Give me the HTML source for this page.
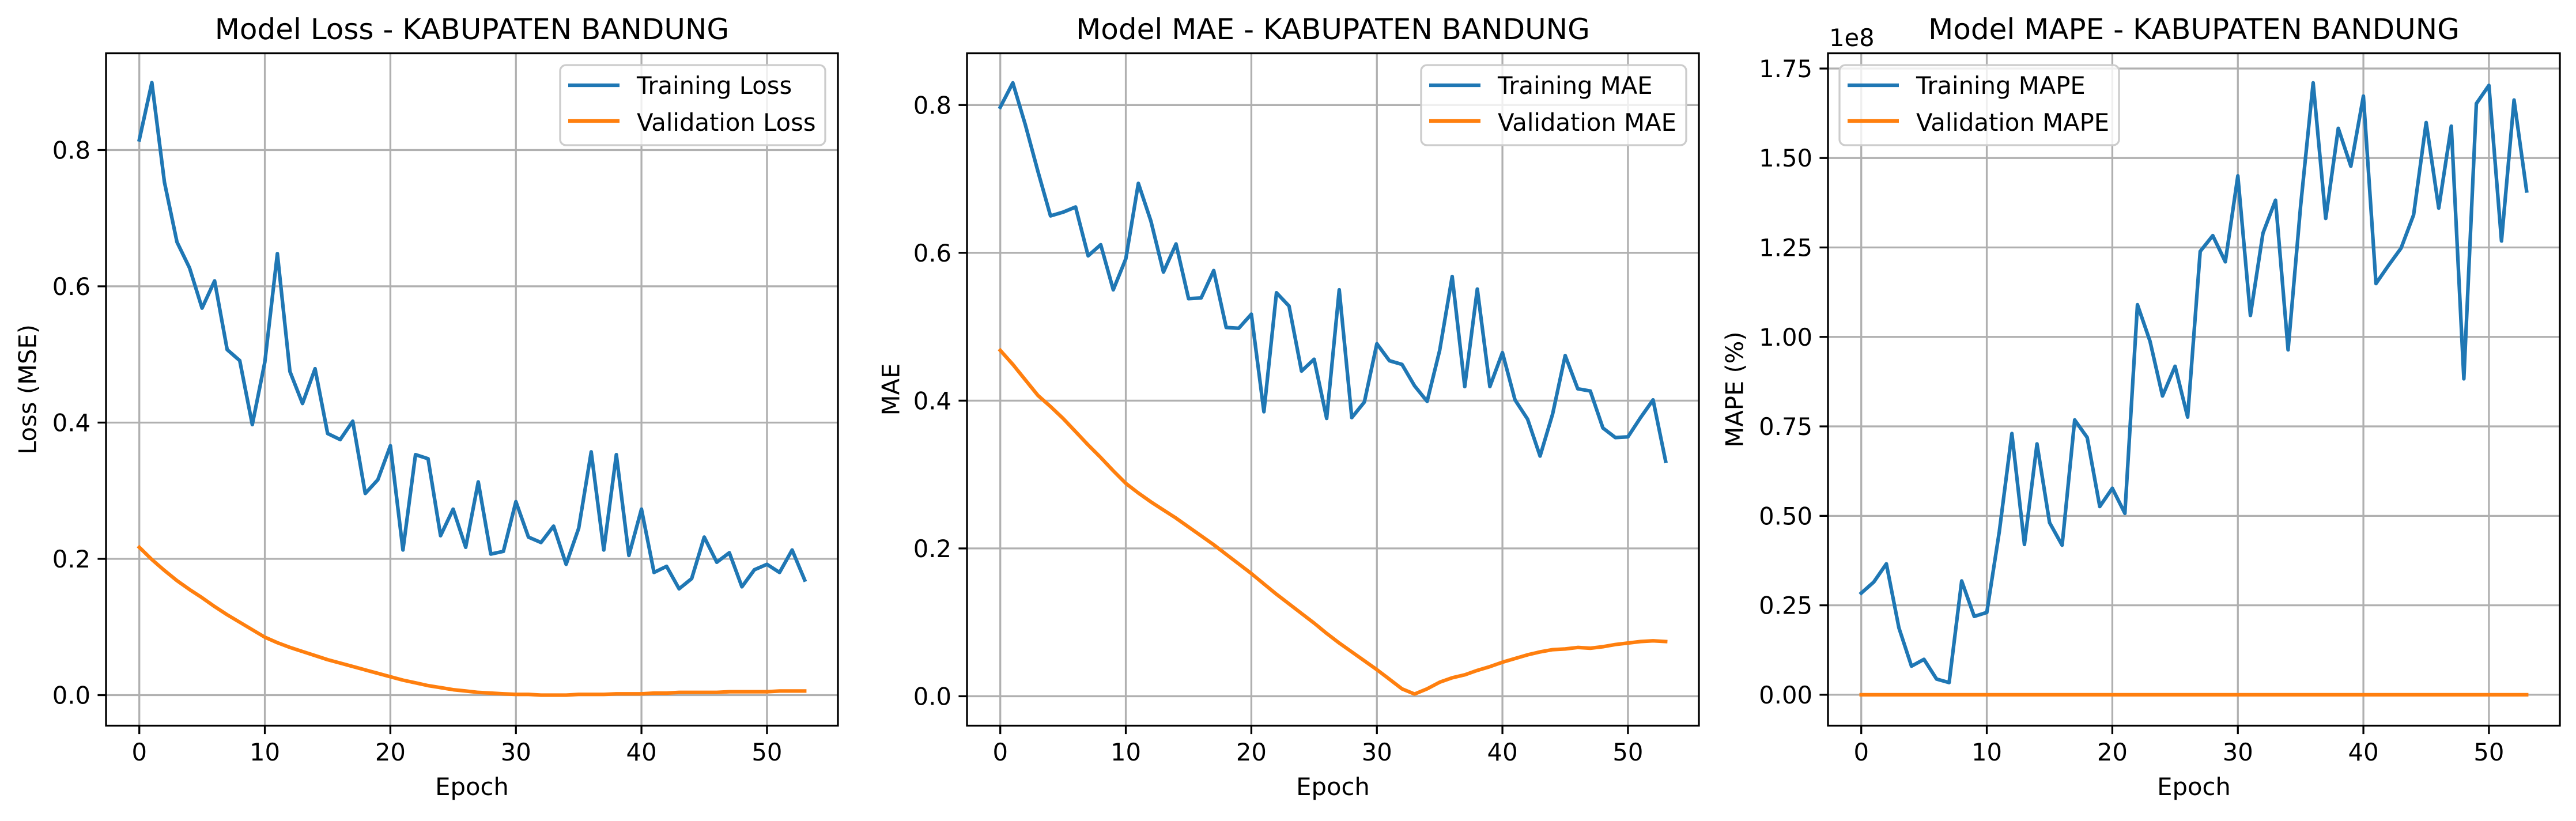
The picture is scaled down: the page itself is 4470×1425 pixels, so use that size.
<!DOCTYPE html>
<html><head><meta charset="utf-8"><style>
html,body{margin:0;padding:0;background:#fff;}
svg text{font-family:"DejaVu Sans","Liberation Sans",sans-serif;fill:#000;}
</style></head><body>
<svg id="fig" width="4470" height="1420" viewBox="0 0 4470 1420" xmlns="http://www.w3.org/2000/svg"></svg>
<script>
const epochs = Array.from({length:54},(_,i)=>i);
const xTicks = [0,10,20,30,40,50];
const lossTrain = [0.815,0.899,0.753,0.665,0.627,0.568,0.608,0.507,0.491,0.397,0.489,0.648,0.475,0.428,0.479,0.384,0.375,0.402,0.296,0.316,0.366,0.213,0.353,0.347,0.234,0.273,0.217,0.313,0.207,0.211,0.284,0.232,0.224,0.248,0.192,0.245,0.357,0.213,0.353,0.205,0.273,0.180,0.189,0.156,0.171,0.232,0.195,0.209,0.159,0.184,0.192,0.180,0.213,0.169];
const lossVal = [0.217,0.199,0.183,0.168,0.155,0.143,0.130,0.118,0.107,0.096,0.085,0.077,0.070,0.064,0.058,0.052,0.047,0.042,0.037,0.032,0.027,0.022,0.018,0.014,0.011,0.008,0.006,0.004,0.003,0.002,0.001,0.001,0.000,0.000,0.000,0.001,0.001,0.001,0.002,0.002,0.002,0.003,0.003,0.004,0.004,0.004,0.004,0.005,0.005,0.005,0.005,0.006,0.006,0.006];
const lossTicks = [0.0,0.2,0.4,0.6,0.8];
const lossTickLabels = ["0.0","0.2","0.4","0.6","0.8"];
const maeTrain = [0.797,0.830,0.773,0.710,0.650,0.655,0.662,0.596,0.611,0.550,0.592,0.694,0.643,0.574,0.612,0.538,0.539,0.576,0.499,0.498,0.517,0.385,0.546,0.528,0.440,0.456,0.376,0.550,0.377,0.398,0.477,0.454,0.449,0.420,0.399,0.468,0.568,0.419,0.551,0.419,0.465,0.401,0.375,0.325,0.382,0.461,0.416,0.413,0.363,0.350,0.351,0.377,0.401,0.318];
const maeVal = [0.468,0.449,0.428,0.407,0.392,0.376,0.358,0.340,0.323,0.305,0.288,0.275,0.263,0.252,0.241,0.229,0.217,0.205,0.192,0.179,0.166,0.152,0.138,0.125,0.112,0.099,0.085,0.072,0.060,0.048,0.036,0.023,0.010,0.003,0.010,0.019,0.025,0.029,0.035,0.040,0.046,0.051,0.056,0.060,0.063,0.064,0.066,0.065,0.067,0.070,0.072,0.074,0.075,0.074];
const maeTicks = [0.0,0.2,0.4,0.6,0.8];
const maeTickLabels = ["0.0","0.2","0.4","0.6","0.8"];
const mapeTrain = [0.284,0.315,0.366,0.187,0.080,0.099,0.044,0.034,0.318,0.219,0.230,0.456,0.730,0.420,0.701,0.481,0.418,0.768,0.719,0.526,0.577,0.507,1.090,0.988,0.835,0.918,0.776,1.239,1.283,1.210,1.450,1.060,1.290,1.382,0.964,1.367,1.710,1.331,1.583,1.477,1.673,1.149,1.200,1.248,1.341,1.599,1.360,1.589,0.883,1.652,1.703,1.268,1.662,1.408];
const mapeVal = epochs.map(()=>0.0);
const mapeTicks = [0.0,0.25,0.5,0.75,1.0,1.25,1.5,1.75];
const mapeTickLabels = ["0.00","0.25","0.50","0.75","1.00","1.25","1.50","1.75"];

const NS="http://www.w3.org/2000/svg";
const svg=document.getElementById('fig');
function mk(tag,attrs,parent,text){const e=document.createElementNS(NS,tag);for(const k in attrs)e.setAttribute(k,attrs[k]);if(text!==undefined)e.textContent=text;(parent||svg).appendChild(e);return e;}

const TOP=92.5,BOT=1259.5,W=1270;
const panels=[
 {id:'loss',left:184,title:'Model Loss - KABUPATEN BANDUNG',ylabel:'Loss (MSE)',ylx:48,ymin:-0.0448,ymax:0.942,tr:lossTrain,va:lossVal,ticks:lossTicks,tl:lossTickLabels,leg:['Training Loss','Validation Loss'],lx:972,lw:460},
 {id:'mae',left:1678,title:'Model MAE - KABUPATEN BANDUNG',ylabel:'MAE',ylx:1546,ymin:-0.0398,ymax:0.870,tr:maeTrain,va:maeVal,ticks:maeTicks,tl:maeTickLabels,leg:['Training MAE','Validation MAE'],lx:2466,lw:460},
 {id:'mape',left:3172,title:'Model MAPE - KABUPATEN BANDUNG',ylabel:'MAPE (%)',ylx:3010,ymin:-0.0863,ymax:1.7926,tr:mapeTrain,va:mapeVal,ticks:mapeTicks,tl:mapeTickLabels,leg:['Training MAPE','Validation MAPE'],lx:3192,lw:485,offset:'1e8'}
];
const XMIN=-2.65,XMAX=55.65;
panels.forEach(p=>{
 const g=mk('g',{});
 
 
 const xs=v=>p.left+(v-XMIN)/(XMAX-XMIN)*W;
 const ys=v=>BOT-(v-p.ymin)/(p.ymax-p.ymin)*(BOT-TOP);
 // grid
 xTicks.forEach(t=>{const l=mk('line',{x1:xs(t),x2:xs(t),y1:TOP,y2:BOT,stroke:'#b0b0b0','stroke-width':3.3},g);
  });
 p.ticks.forEach(t=>{const l=mk('line',{x1:p.left,x2:p.left+W,y1:ys(t),y2:ys(t),stroke:'#b0b0b0','stroke-width':3.3},g);
  });
 // lines
 const path=arr=>arr.map((v,i)=>(i?'L':'M')+xs(epochs[i]).toFixed(1)+','+ys(v).toFixed(1)).join('');
 const lt=mk('path',{d:path(p.tr),fill:'none',stroke:'#1f77b4','stroke-width':6.25,'stroke-linejoin':'round','stroke-linecap':'square'},g);
 
 const lv=mk('path',{d:path(p.va),fill:'none',stroke:'#ff7f0e','stroke-width':6.25,'stroke-linejoin':'round','stroke-linecap':'square'},g);
 
 // frame
 const fr=mk('rect',{x:p.left,y:TOP,width:W,height:BOT-TOP,fill:'none',stroke:'#000','stroke-width':3.3},g);
 
 // ticks
 xTicks.forEach(t=>{mk('line',{x1:xs(t),x2:xs(t),y1:BOT,y2:BOT+14.6,stroke:'#000','stroke-width':3.3},g);
  const tx=mk('text',{x:xs(t),y:1320,'font-size':41.7,'text-anchor':'middle'},g,String(t));
  });
 p.ticks.forEach((t,i)=>{mk('line',{x1:p.left-14.6,x2:p.left,y1:ys(t),y2:ys(t),stroke:'#000','stroke-width':3.3},g);
  const tx=mk('text',{x:p.left-27,y:ys(t)+15,'font-size':41.7,'text-anchor':'end'},g,p.tl[i]);
  });
 // labels
 const ti=mk('text',{x:p.left+W/2,y:68,'font-size':50,'text-anchor':'middle'},g,p.title);
 
 const xl=mk('text',{x:p.left+W/2,y:1380,'font-size':41.7,'text-anchor':'middle'},g,'Epoch');
 
 const cy=(TOP+BOT)/2;
 const yl=mk('text',{x:p.ylx,y:cy,'font-size':41.7,'text-anchor':'middle','dominant-baseline':'central',transform:`rotate(-90 ${p.ylx} ${cy})`},g,p.ylabel);
 
 if(p.offset){const o=mk('text',{x:3174,y:80,'font-size':41.7},g,p.offset);
  }
 // legend
 const lg=mk('g',{},g);
 
 mk('rect',{x:p.lx,y:113,width:p.lw,height:139,rx:10,fill:'rgba(255,255,255,0.8)',stroke:'#cccccc','stroke-width':3.3},lg);
 [['#1f77b4',148,163],['#ff7f0e',210,227]].forEach((c,i)=>{
  const e=mk('g',{},lg);
  
  mk('line',{x1:p.lx+14,x2:p.lx+103,y1:c[1],y2:c[1],stroke:c[0],'stroke-width':6.25},e);
  mk('text',{x:p.lx+133,y:c[2],'font-size':41.7},e,p.leg[i]);
 });
});
</script>
</body></html>
